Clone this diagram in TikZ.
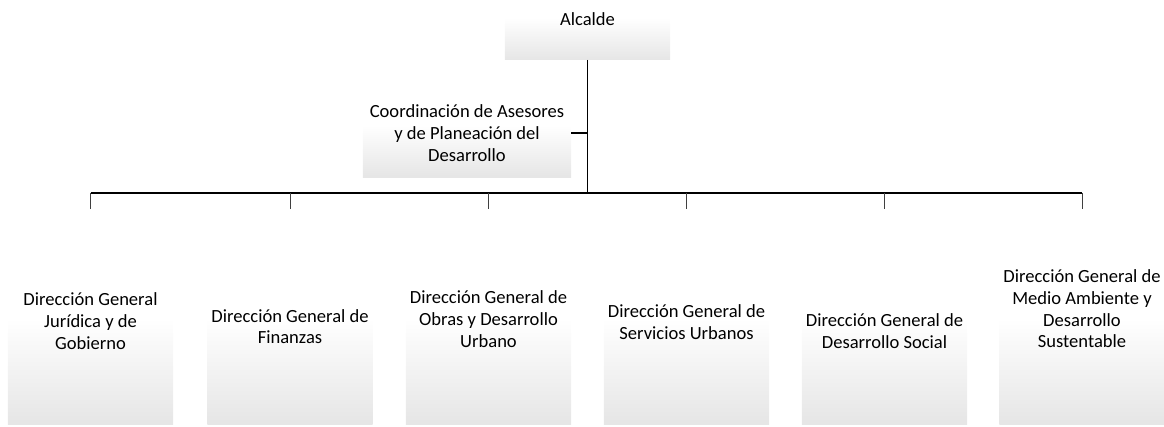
\documentclass[tikz,border=0pt]{standalone}
\usepackage{fontspec}
\setmainfont{Carlito}
\usetikzlibrary{positioning}

\tikzset{
  caja/.style={inner sep=0pt, outer sep=0pt, top color=white, bottom color=black!10, draw=none},
  texto/.style={inner sep=0pt, align=center, font=\fontsize{13.2}{15.4}\selectfont},
  tronco/.style={line width=1.4pt},
  barra/.style={line width=0.9pt},
  bajada/.style={line width=0.7pt, black!75}
}

\begin{document}
\begin{tikzpicture}[x=0.025cm, y=0.025cm]
  \useasboundingbox (0,0) rectangle (1164,427);

  % cabeza: Alcalde
  \node[caja, minimum width=4.125cm, minimum height=1.05cm] (alcalde) at (587.5,388) {};
  \node[texto] (alcaldetxt) at (587.5,408) {Alcalde};

  % asesores
  \node[caja, minimum width=5.2cm, minimum height=1.3cm] (asesores) at (467,276) {};
  \node[texto, minimum width=5.2cm] (asesorestxt) at (467,294)
    {Coordinación de Asesores\\y de Planeación del\\Desarrollo};

  % direcciones generales
  \node[caja, minimum width=4.125cm, minimum height=2.65cm] (dg1) at (90.5,56) {};
  \node[caja, minimum width=4.125cm, minimum height=2.65cm] (dg2) at (290,56) {};
  \node[caja, minimum width=4.125cm, minimum height=2.65cm] (dg3) at (488.5,56) {};
  \node[caja, minimum width=4.125cm, minimum height=2.65cm] (dg4) at (686.5,56) {};
  \node[caja, minimum width=4.125cm, minimum height=2.65cm] (dg5) at (884.5,56) {};
  \node[caja, minimum width=4.125cm, minimum height=2.65cm] (dg6) at (1082,56) {};

  \node[texto] (t1) at (90.5,106) {Dirección General\\Jurídica y de\\Gobierno};
  \node[texto] (t2) at (290,100.5) {Dirección General de\\Finanzas};
  \node[texto] (t3) at (488.5,108) {Dirección General de\\Obras y Desarrollo\\Urbano};
  \node[texto] (t4) at (686.5,105) {Dirección General de\\Servicios Urbanos};
  \node[texto] (t5) at (884.5,96) {Dirección General de\\Desarrollo Social};
  \node[texto] (t6) at (1082,118) {Dirección General de\\Medio Ambiente y\\Desarrollo\\Sustentable};

  % conectores
  \coordinate (bus) at (587.5,234);
  \draw[tronco] (alcalde.south) -- (bus);
  \draw[barra] (asesorestxt.east) -- (asesorestxt.east -| bus);
  \draw[barra] (dg1 |- bus) -- (dg6 |- bus);
  \draw[bajada] (dg1 |- bus) -- ++(0,-16);
  \draw[bajada] (dg2 |- bus) -- ++(0,-16);
  \draw[bajada] (dg3 |- bus) -- ++(0,-16);
  \draw[bajada] (dg4 |- bus) -- ++(0,-16);
  \draw[bajada] (dg5 |- bus) -- ++(0,-16);
  \draw[bajada] (dg6 |- bus) -- ++(0,-16);
\end{tikzpicture}
\end{document}
